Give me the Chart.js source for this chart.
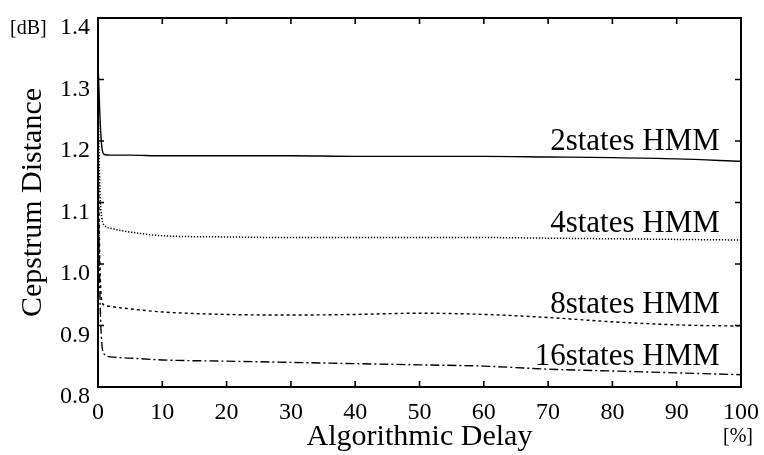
<!DOCTYPE html>
<html>
<head>
<meta charset="utf-8">
<script src="https://cdn.jsdelivr.net/npm/chart.js@4/dist/chart.umd.min.js"></script>
<style>
  html, body { margin: 0; padding: 0; background: #fff; }
  canvas { display: block; }
</style>
</head>
<body>
<canvas id="c" width="764" height="455"></canvas>
<script>
// Algorithmic delay [%] at which each curve is sampled
const delay = [0, 0.3, 0.6, 1, 2, 5, 10, 20, 30, 40, 50, 60, 70, 80, 90, 100];

// Cepstrum distance [dB] for each HMM size
const hmm2  = [1.33, 1.24, 1.19, 1.178, 1.177, 1.177, 1.176, 1.176, 1.176, 1.175, 1.175, 1.175, 1.174, 1.173, 1.171, 1.167];
const hmm4  = [1.27, 1.12, 1.075, 1.063, 1.058, 1.052, 1.046, 1.044, 1.043, 1.043, 1.043, 1.043, 1.042, 1.041, 1.040, 1.039];
const hmm8  = [1.20, 1.00, 0.94, 0.933, 0.931, 0.927, 0.922, 0.918, 0.917, 0.918, 0.920, 0.918, 0.913, 0.906, 0.901, 0.899];
const hmm16 = [1.15, 0.95, 0.87, 0.853, 0.849, 0.847, 0.844, 0.842, 0.840, 0.838, 0.836, 0.834, 0.829, 0.826, 0.823, 0.820];

const seriesNames = ['2states HMM', '4states HMM', '8states HMM', '16states HMM'];

// Axis ranges and ticks
const xTicks = [0, 10, 20, 30, 40, 50, 60, 70, 80, 90, 100];
const yTicks = [0.8, 0.9, 1.0, 1.1, 1.2, 1.3, 1.4];

// In-plot curve labels, anchored in data units (right edge, baseline)
const curveLabelX = [96.7, 96.7, 96.7, 96.7];
const curveLabelY = [1.1854, 1.0525, 0.9203, 0.8358];

const SERIF = '"Liberation Serif", "Times New Roman", serif';

const toPoints = ys => delay.map((x, i) => ({ x: x, y: ys[i] }));

const lineStyles = [
  { dash: [], width: 1.4 },
  { dash: [1.3, 1.7], width: 1.5 },
  { dash: [3, 3], width: 1.4 },
  { dash: [9, 3, 2, 3], width: 1.4 }
];

const datasets = [hmm2, hmm4, hmm8, hmm16].map((ys, i) => ({
  label: seriesNames[i],
  data: toPoints(ys),
  borderColor: '#000',
  borderWidth: lineStyles[i].width,
  borderDash: lineStyles[i].dash,
  pointRadius: 0,
  fill: false,
  cubicInterpolationMode: 'monotone'
}));

// Box around the plot with inward tick marks on all four sides
const framePlugin = {
  id: 'frame',
  afterDatasetsDraw(chart) {
    const { ctx, chartArea: a, scales: { x, y } } = chart;
    ctx.save();
    ctx.strokeStyle = '#000';
    ctx.lineWidth = 1.6;
    const tl = 6;
    ctx.beginPath();
    xTicks.forEach(v => {
      const px = x.getPixelForValue(v);
      ctx.moveTo(px, a.bottom); ctx.lineTo(px, a.bottom - tl);
      ctx.moveTo(px, a.top); ctx.lineTo(px, a.top + tl);
    });
    yTicks.forEach(v => {
      const py = y.getPixelForValue(v);
      ctx.moveTo(a.left, py); ctx.lineTo(a.left + tl, py);
      ctx.moveTo(a.right, py); ctx.lineTo(a.right - tl, py);
    });
    ctx.stroke();
    ctx.lineWidth = 2;
    ctx.strokeRect(a.left, a.top, a.right - a.left, a.bottom - a.top);

    // curve labels
    ctx.fillStyle = '#000';
    ctx.font = '31px ' + SERIF;
    ctx.textAlign = 'right';
    ctx.textBaseline = 'alphabetic';
    seriesNames.forEach((name, i) => {
      ctx.fillText(name, x.getPixelForValue(curveLabelX[i]), y.getPixelForValue(curveLabelY[i]));
    });

    // unit labels
    ctx.font = '20px ' + SERIF;
    ctx.textBaseline = 'middle';
    ctx.textAlign = 'left';
    ctx.fillText('[dB]', 10, 29);
    ctx.fillText('[%]', 723, 437);
    ctx.restore();
  }
};

new Chart(document.getElementById('c'), {
  type: 'line',
  data: { datasets },
  options: {
    responsive: false,
    devicePixelRatio: 1,
    animation: false,
    layout: { padding: { top: 18, right: 23, left: 0, bottom: 0 } },
    plugins: { legend: { display: false }, tooltip: { enabled: false } },
    scales: {
      x: {
        type: 'linear',
        min: 0, max: 100,
        afterBuildTicks: s => { s.ticks = xTicks.map(v => ({ value: v })); },
        grid: { display: false, drawTicks: false },
        border: { display: false },
        ticks: { color: '#000', font: { family: SERIF, size: 24 }, padding: 11, maxRotation: 0 },
        title: { display: true, text: 'Algorithmic Delay', color: '#000', font: { family: SERIF, size: 30 }, padding: { top: 0, bottom: 0 } },
        afterFit: s => { s.height = 68; s.paddingLeft = 0; s.paddingRight = 0; }
      },
      y: {
        type: 'linear',
        min: 0.8, max: 1.4,
        afterBuildTicks: s => { s.ticks = yTicks.map(v => ({ value: v })); },
        grid: { display: false, drawTicks: false },
        border: { display: false },
        ticks: { color: '#000', font: { family: SERIF, size: 24 }, padding: 8, labelOffset: 10, callback: v => Number(v).toFixed(1) },
        title: { display: true, text: 'Cepstrum Distance', color: '#000', font: { family: SERIF, size: 30 }, padding: { top: 15, bottom: 0 } },
        afterFit: s => { s.width = 98; s.paddingTop = 0; s.paddingBottom = 0; }
      }
    }
  },
  plugins: [framePlugin]
});
</script>
</body>
</html>
